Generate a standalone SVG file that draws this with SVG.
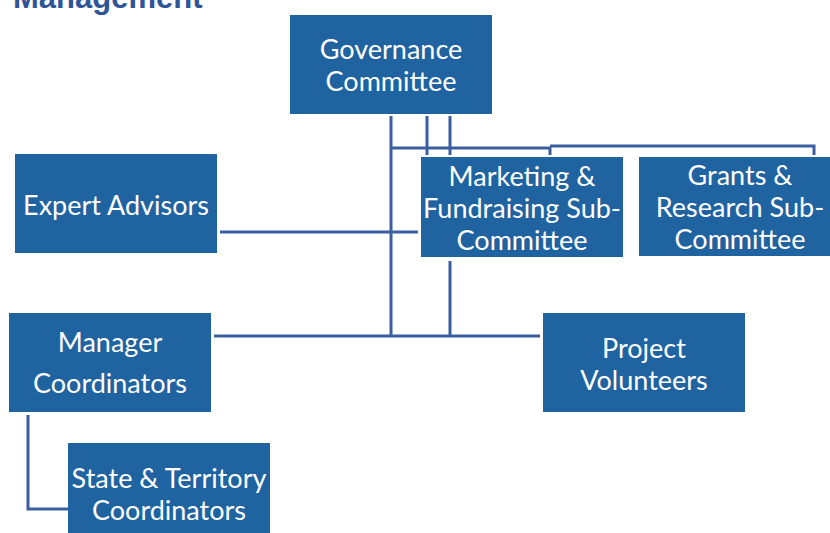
<svg xmlns="http://www.w3.org/2000/svg" width="830" height="533" viewBox="0 0 830 533">
<style>
.box{fill:#1F63A0}
.lbl{font-family:Lato,"Open Sans","Liberation Sans",sans-serif;font-size:27px;fill:#FFFFFF;text-anchor:middle}
.ln{fill:none;stroke:#3B5EA0;stroke-width:3}
.title{font-family:"Liberation Sans",Arial,sans-serif;font-weight:bold;font-size:31px;fill:#2F5597}
</style>
<rect width="830" height="533" fill="#FFFFFF"/>
<text class="title" x="13" y="8">Management</text>
<g id="connectors">
<path class="ln" d="M391,116 V336"/>
<path class="ln" d="M427,116 V155"/>
<path class="ln" d="M450,116 V155"/>
<path class="ln" d="M391,148 H550 V155"/>
<path class="ln" d="M550,146 H814 V155"/>
<path class="ln" d="M220,232 H418"/>
<path class="ln" d="M450,261 V336"/>
<path class="ln" d="M214,336 H540"/>
<path class="ln" d="M28,415 V509 H68"/>
</g>
<g id="governance">
<rect class="box" x="290" y="15" width="202" height="99"/>
<text class="lbl" x="391" y="59">Governance</text>
<text class="lbl" x="391" y="91">Committee</text>
</g>
<g id="expert">
<rect class="box" x="15" y="154" width="202" height="99"/>
<text class="lbl" x="116" y="215">Expert Advisors</text>
</g>
<g id="marketing">
<rect class="box" x="421" y="157" width="202" height="100"/>
<text class="lbl" x="522" y="186">Marketing &amp;</text>
<text class="lbl" x="522" y="218">Fundraising Sub-</text>
<text class="lbl" x="522" y="250">Committee</text>
</g>
<g id="grants">
<rect class="box" x="639" y="157" width="202" height="99"/>
<text class="lbl" x="740" y="185">Grants &amp;</text>
<text class="lbl" x="740" y="217">Research Sub-</text>
<text class="lbl" x="740" y="249">Committee</text>
</g>
<g id="manager">
<rect class="box" x="9" y="313" width="202" height="99"/>
<text class="lbl" x="110" y="352">Manager</text>
<text class="lbl" x="110" y="393">Coordinators</text>
</g>
<g id="project">
<rect class="box" x="543" y="313" width="202" height="99"/>
<text class="lbl" x="644" y="358">Project</text>
<text class="lbl" x="644" y="390">Volunteers</text>
</g>
<g id="state">
<rect class="box" x="68" y="443" width="202" height="95"/>
<text class="lbl" x="169" y="488">State &amp; Territory</text>
<text class="lbl" x="169" y="520">Coordinators</text>
</g>
</svg>
